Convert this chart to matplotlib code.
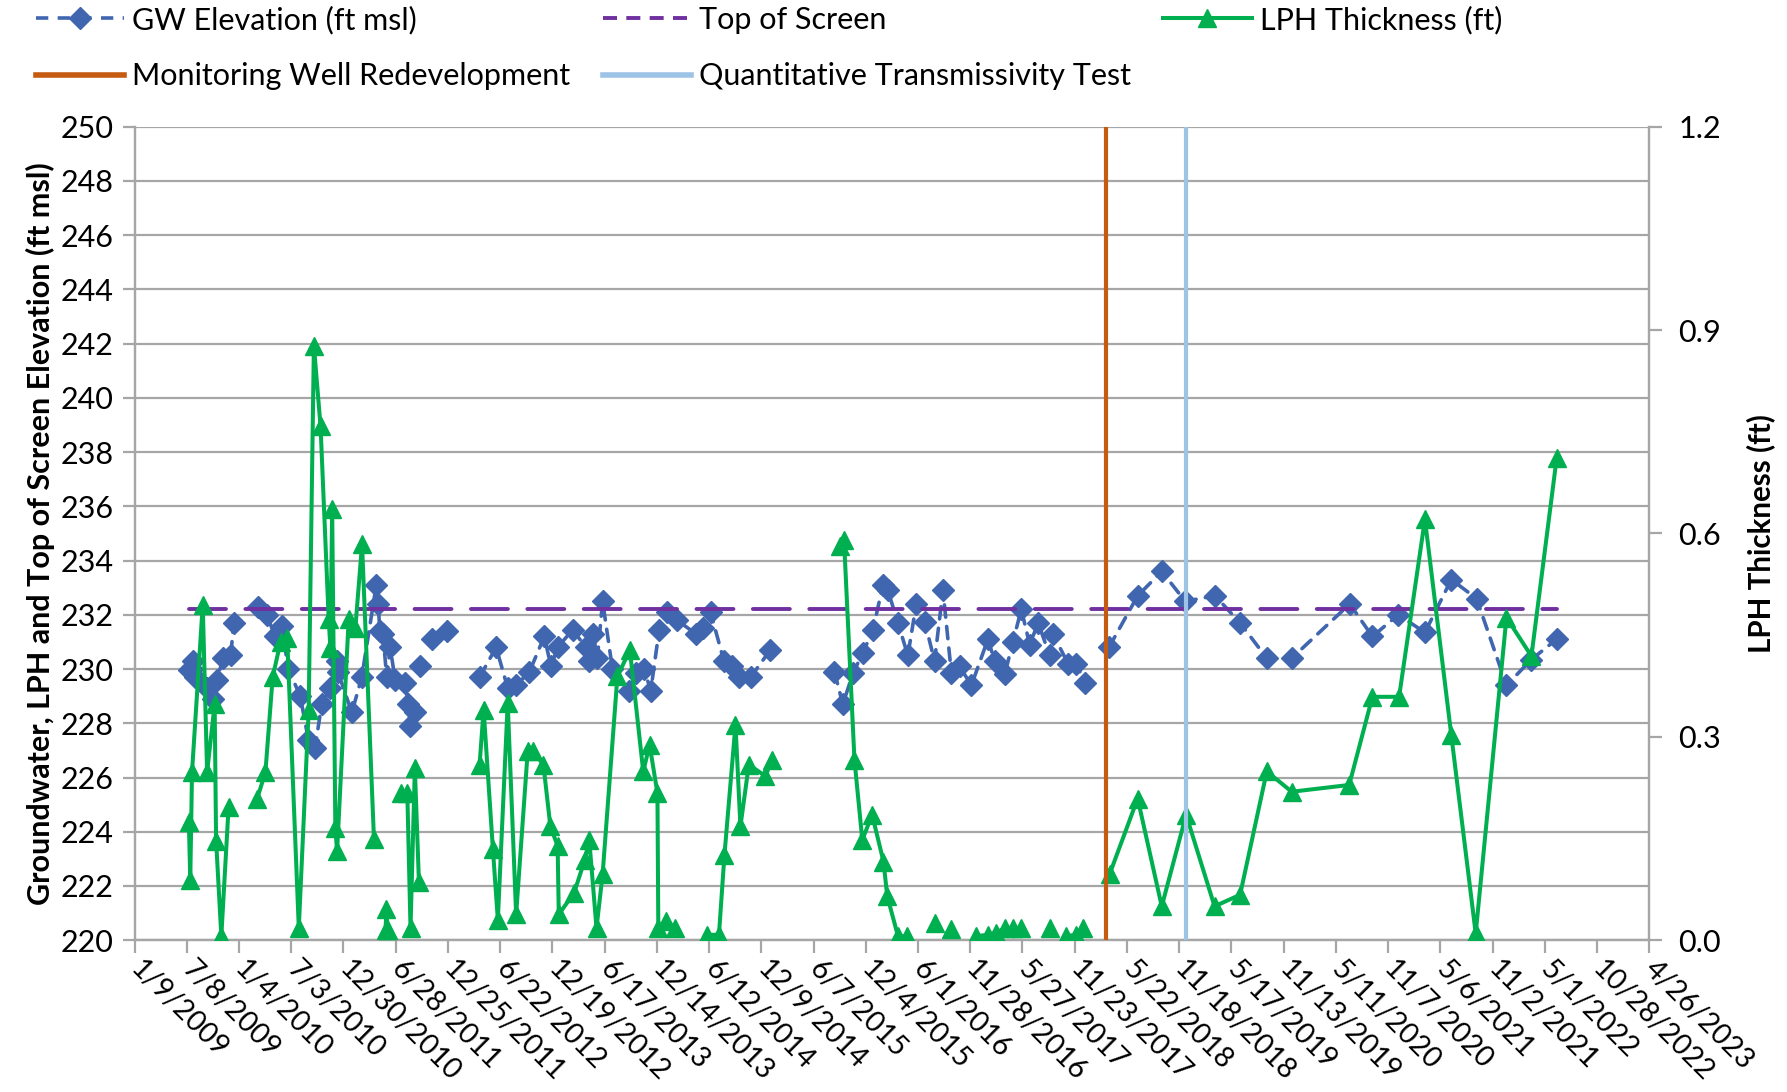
import numpy as np
import pandas as pd
import matplotlib
matplotlib.use("Agg")
import matplotlib.pyplot as plt
from matplotlib.lines import Line2D

plt.rcParams['font.family'] = ['Lato', 'DejaVu Sans']

# GW elevation (ft msl); None = break in the line
gw_dates = [
    '2009-07-14', '2009-07-25', '2009-07-31', '2009-08-06', '2009-09-15', '2009-10-08',
    '2009-10-19', '2009-11-11', '2009-12-07', '2009-12-16', '2009-12-16',
    '2010-03-12', '2010-04-10', '2010-05-08', '2010-05-31', '2010-06-23', '2010-08-03',
    '2010-08-31', '2010-09-23', '2010-10-16', '2010-11-14', '2010-12-07', '2010-12-10',
    '2011-01-28', '2011-03-03', '2011-04-22', '2011-04-29', '2011-05-04', '2011-05-15',
    '2011-05-28', '2011-06-09', '2011-06-26', '2011-07-30', '2011-08-11', '2011-08-17',
    '2011-09-03', '2011-09-03', '2011-09-20', '2011-09-20', '2011-10-30', '2011-10-30',
    '2011-12-21', '2011-12-21',
    '2012-04-12', '2012-06-08', '2012-07-18', '2012-08-16', '2012-10-01', '2012-11-21',
    '2012-12-14', '2013-01-06', '2013-02-27', '2013-04-13', '2013-04-25', '2013-05-08',
    '2013-05-23', '2013-06-10', '2013-07-14', '2013-09-09', '2013-10-02', '2013-10-31',
    '2013-11-23', '2013-12-22', '2014-01-19', '2014-02-22', '2014-04-27', '2014-05-23',
    '2014-06-17', '2014-08-02', '2014-08-31', '2014-09-23', '2014-11-02', '2015-01-09',
    '2015-01-09',
    '2015-08-18', '2015-09-16', '2015-10-21', '2015-11-24', '2015-12-29', '2016-02-01',
    '2016-02-18', '2016-03-24', '2016-04-27', '2016-05-26', '2016-06-24', '2016-07-28',
    '2016-08-26', '2016-09-24', '2016-10-22', '2016-12-02', '2017-01-28', '2017-02-20',
    '2017-03-27', '2017-04-24', '2017-05-23', '2017-06-21', '2017-07-20', '2017-08-29',
    '2017-09-09', '2017-10-31', '2017-11-29', '2017-12-27', '2017-12-27',
    '2018-03-21', '2018-06-28', '2018-09-19', '2018-12-09', '2019-03-22', '2019-06-16',
    '2019-09-16', '2019-12-11', '2020-06-28', '2020-09-14', '2020-12-12', '2021-03-14',
    '2021-06-13', '2021-09-08', '2021-12-20', '2022-03-16', '2022-06-11',
]
gw_ft = [
    229.95, 230.0, 230.3, 229.7, 229.3, 228.9,
    229.6, 230.4, 230.5, 231.7, None,
    232.3, 232.0, 231.2, 231.6, 230.0, 229.0,
    227.4, 227.1, 228.7, 229.3, 230.3, 229.9,
    228.4, 229.7, 233.1, 232.4, 231.4, 231.3,
    229.7, 230.8, 229.6, 229.5, 228.7, 227.9,
    228.4, None, 230.1, None, 231.1, None,
    231.4, None,
    229.7, 230.8, 229.3, 229.4, 229.9, 231.2,
    230.1, 230.8, 231.45, 230.8, 230.3, 231.3,
    230.4, 232.5, 230.0, 229.2, 229.85, 230.0,
    229.2, 231.45, 232.1, 231.8, 231.3, 231.5,
    232.1, 230.3, 230.1, 229.7, 229.7, 230.7,
    None,
    229.9, 228.7, 229.85, 230.6, 231.45, 233.1,
    232.9, 231.7, 230.5, 232.4, 231.75, 230.3,
    232.9, 229.85, 230.1, 229.4, 231.1, 230.3,
    229.8, 231.0, 232.2, 230.9, 231.7, 230.5,
    231.3, 230.2, 230.2, 229.5, None,
    230.8, 232.7, 233.6, 232.5, 232.7, 231.7,
    230.4, 230.4, 232.4, 231.2, 232.0, 231.35,
    233.3, 232.6, 229.4, 230.35, 231.1,
]

# LPH thickness (ft); None = break in the line
lph_dates = [
    '2009-07-15', '2009-07-20', '2009-07-26', '2009-09-01', '2009-09-16', '2009-10-12',
    '2009-10-17', '2009-11-04', '2009-11-29', '2009-11-29',
    '2010-03-07', '2010-04-05', '2010-04-30', '2010-05-27', '2010-06-19', '2010-07-29',
    '2010-09-01', '2010-09-19', '2010-10-12', '2010-11-09', '2010-11-15', '2010-11-21',
    '2010-12-02', '2010-12-08', '2011-01-17', '2011-02-09', '2011-03-04', '2011-04-14',
    '2011-04-14',
    '2011-05-24', '2011-05-27', '2011-05-31', '2011-05-31',
    '2011-07-15', '2011-08-07', '2011-08-18', '2011-09-02', '2011-09-16', '2011-09-16',
    '2012-04-12', '2012-04-26', '2012-05-28', '2012-06-14', '2012-07-18', '2012-08-16',
    '2012-09-25', '2012-10-12', '2012-11-18', '2012-12-12', '2013-01-06', '2013-01-10',
    '2013-03-04', '2013-04-10', '2013-04-25', '2013-05-20', '2013-06-10', '2013-07-31',
    '2013-09-12', '2013-10-28', '2013-11-19', '2013-12-16', '2013-12-19', '2014-01-13',
    '2014-02-15', '2014-02-15',
    '2014-06-06', '2014-07-16', '2014-08-04', '2014-09-11', '2014-09-28', '2014-10-27',
    '2014-12-23', '2015-01-15', '2015-01-15',
    '2015-09-05', '2015-09-20', '2015-10-26', '2015-11-22', '2015-12-26', '2016-02-03',
    '2016-02-16', '2016-03-24', '2016-04-24', '2016-04-24',
    '2016-07-28', '2016-07-28', '2016-09-24', '2016-09-24',
    '2016-12-19', '2017-01-28', '2017-02-26', '2017-03-27', '2017-04-24', '2017-05-23',
    '2017-05-23', '2017-08-29', '2017-08-29',
    '2017-10-25', '2017-11-26', '2017-12-23', '2017-12-23',
    '2018-03-23', '2018-06-28', '2018-09-19', '2018-12-12', '2019-03-20', '2019-06-16',
    '2019-09-16', '2019-12-11', '2020-06-26', '2020-09-14', '2020-12-15', '2021-03-14',
    '2021-06-13', '2021-09-05', '2021-12-20', '2022-03-16', '2022-06-11',
]
lph_ft = [
    0.175, 0.089, 0.248, 0.495, 0.248, 0.348,
    0.147, 0.006, 0.196, None,
    0.208, 0.248, 0.388, 0.440, 0.446, 0.018,
    0.339, 0.877, 0.758, 0.474, 0.431, 0.636,
    0.165, 0.131, 0.474, 0.461, 0.584, 0.150,
    None,
    0.015, 0.046, 0.015, None,
    0.217, 0.217, 0.018, 0.254, 0.086, None,
    0.259, 0.340, 0.134, 0.030, 0.350, 0.038,
    0.279, 0.279, 0.259, 0.168, 0.139, 0.038,
    0.070, 0.119, 0.148, 0.018, 0.097, 0.389,
    0.428, 0.249, 0.288, 0.217, 0.018, 0.028,
    0.018, None,
    0.008, 0.008, 0.126, 0.318, 0.168, 0.259,
    0.242, 0.266, None,
    0.581, 0.591, 0.266, 0.148, 0.185, 0.116,
    0.065, 0.006, 0.006, None,
    0.026, None, 0.016, None,
    0.006, 0.008, 0.011, 0.018, 0.018, 0.018,
    None, 0.018, None,
    0.006, 0.008, 0.018, None,
    0.097, 0.209, 0.050, 0.185, 0.050, 0.067,
    0.249, 0.219, 0.229, 0.359, 0.359, 0.621,
    0.302, 0.010, 0.476, 0.419, 0.711,
]

screen_dates = ['2009-07-14', '2022-06-11']
screen_ft = [232.2, 232.2]

redevelopment_date = '2018-03-10'
transmissivity_date = '2018-12-13'

x_start, x_end = '2009-01-09', '2023-04-26'
tick_dates = pd.date_range(x_start, periods=30, freq='180D')
tick_labels = [f"{d.month}/{d.day}/{d.year}" for d in tick_dates]

gw_x = pd.to_datetime(gw_dates)
gw_y = np.array(gw_ft, dtype=float)
lph_x = pd.to_datetime(lph_dates)
lph_y = np.array(lph_ft, dtype=float)

c_gw = '#4066b0'
c_screen = '#7030a0'
c_lph = '#00b050'
c_redev = '#c55a11'
c_trans = '#9dc3e6'
c_grid = '#a6a6a6'

fig = plt.figure(figsize=(17.87, 10.92), dpi=100)
ax = fig.add_axes([0.0753, 0.139, 0.8476, 0.745])
ax2 = ax.twinx()

ax.plot(gw_x, gw_y, color=c_gw, lw=2.6, dashes=(3.4, 2.6),
        dash_capstyle='round', marker='D', ms=11, mec=c_gw, mfc=c_gw, zorder=3)
ax.plot(pd.to_datetime(screen_dates), screen_ft, color=c_screen, lw=2.8,
        dashes=(9.5, 5.0), dash_capstyle='round', zorder=4)

ax2.plot(lph_x, lph_y, color=c_lph, lw=2.9, marker='^', ms=13,
         mec=c_lph, mfc=c_lph, zorder=3)
ax2.axvline(pd.Timestamp(redevelopment_date), color=c_redev, lw=3, zorder=4)
ax2.axvline(pd.Timestamp(transmissivity_date), color=c_trans, lw=3, zorder=4)

ax.set_xlim(pd.Timestamp(x_start), pd.Timestamp(x_end))
ax.set_ylim(220, 250)
ax.set_yticks(np.arange(220, 251, 2))
ax2.set_ylim(0, 1.2)
ax2.set_yticks([0.0, 0.3, 0.6, 0.9, 1.2])
ax2.set_yticklabels(['0.0', '0.3', '0.6', '0.9', '1.2'])

ax.set_xticks(tick_dates)
ax.set_xticklabels(tick_labels, rotation=-45, ha='left', va='center',
                   rotation_mode='anchor')

ax.grid(axis='y', color=c_grid, lw=1.6)
ax.set_axisbelow(True)
for a in (ax, ax2):
    a.spines['top'].set_visible(False)
    for s in ('left', 'right', 'bottom'):
        a.spines[s].set_color(c_grid)
        a.spines[s].set_linewidth(1.6)
ax.tick_params(axis='x', direction='out', length=9, width=1.6, color=c_grid,
               labelsize=20.5, pad=9)
ax.tick_params(axis='y', direction='out', length=9, width=1.6, color=c_grid,
               labelsize=22, pad=6)
ax2.tick_params(axis='y', direction='out', length=9, width=1.6, color=c_grid,
                labelsize=22, pad=12)

ax.set_ylabel('Groundwater, LPH and Top of Screen Elevation (ft msl)',
              fontsize=22, fontweight='bold', labelpad=4)
ax2.set_ylabel('LPH Thickness (ft)', fontsize=21.3, fontweight='bold', labelpad=18)

handles = [
    Line2D([], [], color=c_gw, lw=2.6, dashes=(3.4, 2.6), marker='D', ms=11),
    Line2D([], [], color=c_redev, lw=4),
    Line2D([], [], color=c_screen, lw=2.8, dashes=(3.6, 2.4)),
    Line2D([], [], color=c_trans, lw=4),
    Line2D([], [], color=c_lph, lw=2.9, marker='^', ms=13),
]
labels = ['GW Elevation (ft msl)', 'Monitoring Well Redevelopment', 'Top of Screen',
          'Quantitative Transmissivity Test', 'LPH Thickness (ft)']
fig.legend(handles, labels, ncol=3, loc='upper left', bbox_to_anchor=(0.020, 0.995),
           frameon=False, fontsize=22, handlelength=2.9, handletextpad=0.26,
           columnspacing=1.05, labelspacing=0.92, borderpad=0, borderaxespad=0)

fig.savefig('out.png', dpi=100)
